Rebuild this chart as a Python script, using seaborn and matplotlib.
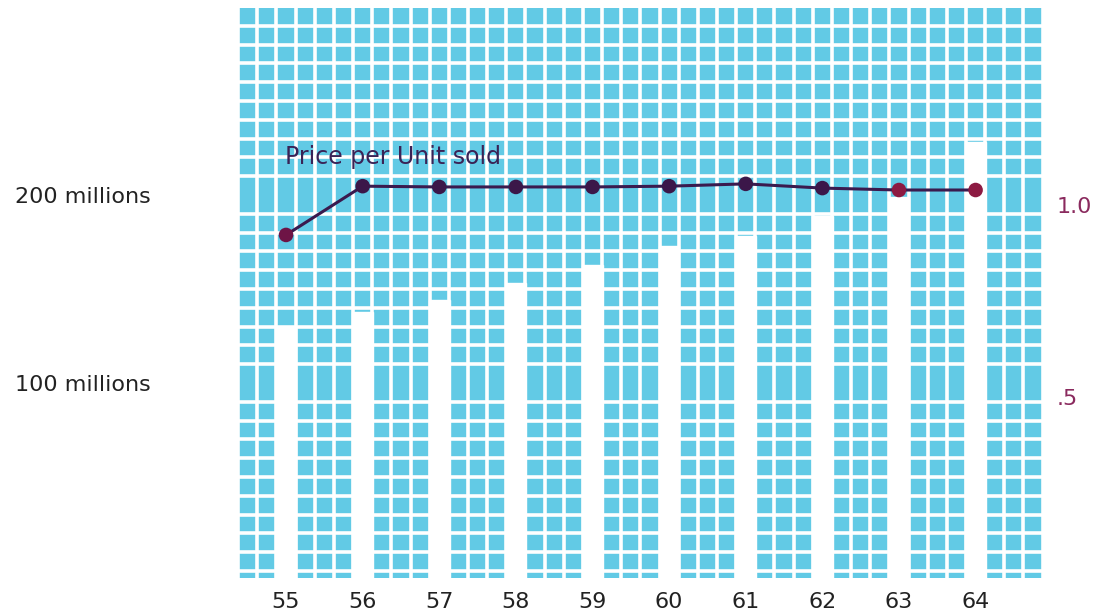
import numpy as np
import pandas as pd
import matplotlib
matplotlib.use('Agg')
import matplotlib.pyplot as plt
import seaborn as sns
from matplotlib.ticker import MultipleLocator, FixedLocator

# dados
anos = ['55', '56', '57', '58', '59', '60', '61', '62', '63', '64']
vendas = [130, 138, 144, 153, 163, 173, 178, 189, 199, 228]   # milhoes
preco = [0.922, 1.049, 1.047, 1.047, 1.047, 1.049, 1.055, 1.044, 1.039, 1.039]
grupo_ponto = ['a', 'b', 'b', 'b', 'b', 'b', 'b', 'b', 'c', 'c']

sns.set_style('white')
plt.rcParams['font.family'] = ['DejaVu Sans']

base_dados = pd.DataFrame({'ano': anos, 'vendas': vendas, 'preco': preco,
                           'grupo': grupo_ponto, 'pos': np.arange(len(anos))})

fig = plt.figure(figsize=(11.01, 6.15), dpi=100)
ax = fig.add_axes([238 / 1101, 37 / 615, 805 / 1101, 570 / 615])
ax.set_facecolor('#62cae5')

y_min = -3.7
sns.barplot(data=base_dados, x='ano', y='vendas', color='white', width=0.27,
            saturation=1, ax=ax, zorder=3)
# as barras brancas descem ate a borda de baixo da grade
for p in ax.patches:
    p.set_edgecolor('white')
    p.set_height(p.get_height() - y_min)
    p.set_y(y_min)

ax.set_xlim(-0.627, 9.88)
ax.set_ylim(y_min, 299.5)

# grade branca
ax.xaxis.set_minor_locator(MultipleLocator(0.25, offset=0.125))
ax.yaxis.set_minor_locator(MultipleLocator(10))
ax.set_axisbelow(True)
ax.grid(False, which='major')
ax.grid(True, which='minor', color='white', linewidth=2.6)

ax.yaxis.set_major_locator(FixedLocator([100, 200]))
ax.set_yticklabels(['100 millions', '200 millions'])
ax.tick_params(axis='y', which='both', length=0, pad=63, labelsize=16, labelcolor='#222222')
ax.tick_params(axis='x', which='both', length=0, pad=10, labelsize=16, labelcolor='#222222')
ax.set_xlabel('')
ax.set_ylabel('')
for s in ax.spines.values():
    s.set_visible(False)

ax.text(-0.02, 220, 'Price per Unit sold', fontsize=17, color='#3a2356',
        ha='left', va='center', zorder=5)

# eixo do preco
ax2 = ax.twinx()
sns.lineplot(data=base_dados, x='pos', y='preco', color='#3a1a4e', linewidth=2.2,
             ax=ax2, zorder=4)
sns.scatterplot(data=base_dados, x='pos', y='preco', hue='grupo',
                palette={'a': '#6e1446', 'b': '#3b1749', 'c': '#8c1a42'},
                s=110, edgecolor='none', legend=False, ax=ax2, zorder=5)
ax2.set_ylim(0.0286, 1.513)
ax2.set_xlim(-0.627, 9.88)
ax2.set_yticks([0.5, 1.0])
ax2.set_yticklabels(['.5', '1.0'])
ax2.tick_params(axis='y', length=0, pad=10, labelsize=16, labelcolor='#8a2a5e')
ax2.set_xlabel('')
ax2.set_ylabel('')
ax2.grid(False)
for s in ax2.spines.values():
    s.set_visible(False)

fig.savefig('out.png', dpi=100)
